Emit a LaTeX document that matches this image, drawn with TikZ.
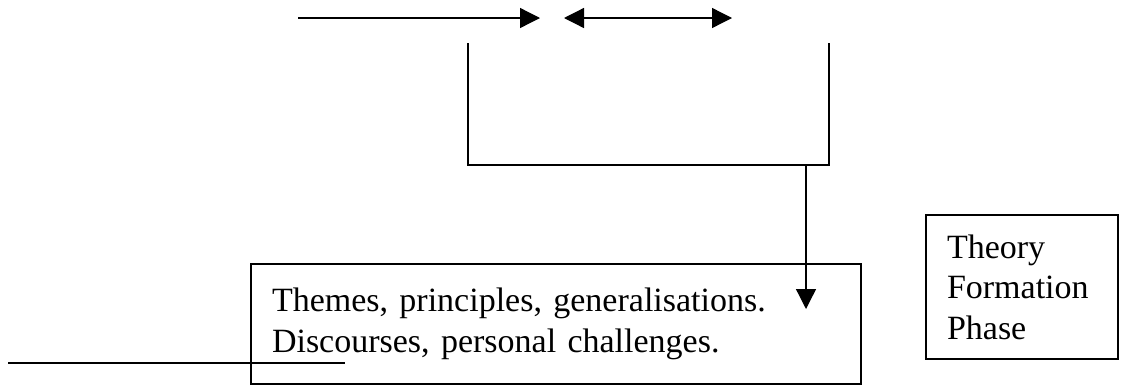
\documentclass[tikz,border=0pt]{standalone}
\usepackage{fontspec}
\setmainfont{Liberation Serif}
\usetikzlibrary{arrows.meta}
\tikzset{
	>={Triangle[length=20pt,width=20pt]},
	box/.style={draw,rectangle,align=left,inner xsep=21pt,inner ysep=0pt,font=\fontsize{34}{40.5}\selectfont},
}
\begin{document}
\begin{tikzpicture}[x=1pt,y=-1pt,line width=1.3pt]
			\useasboundingbox (0,0) rectangle (1123,389);
			% top arrows
			\coordinate (a1) at (298,18);
			\coordinate (a2) at (540,18);
			\coordinate (b1) at (564,18);
			\coordinate (b2) at (732,18);
			\draw[->] (a1)--(a2);
			\draw[<->] (b1)--(b2);
			% bracket
			\coordinate (l1) at (468,43);
			\coordinate (l2) at (468,165);
			\coordinate (r2) at (829,165);
			\coordinate (r1) at (829,43);
			\draw (l1)--(l2)--(r2)--(r1);
			% boxes
			\node[box,minimum width=610pt,minimum height=120pt,text width=568pt] at (556,324) (themes) {Themes, principles, generalisations.\\Discourses, personal challenges.};
			\node[box,minimum width=192pt,minimum height=144pt,text width=150pt] at (1022,287) (theory) {Theory\\Formation\\Phase};
			% down arrow
			\coordinate (d1) at (806,165);
			\coordinate (d2) at (806,309);
			\draw[->] (d1)--(d2);
			% left line
			\coordinate (s1) at (8,363);
			\coordinate (s2) at (345,363);
			\draw (s1)--(s2);
		\end{tikzpicture}
\end{document}
